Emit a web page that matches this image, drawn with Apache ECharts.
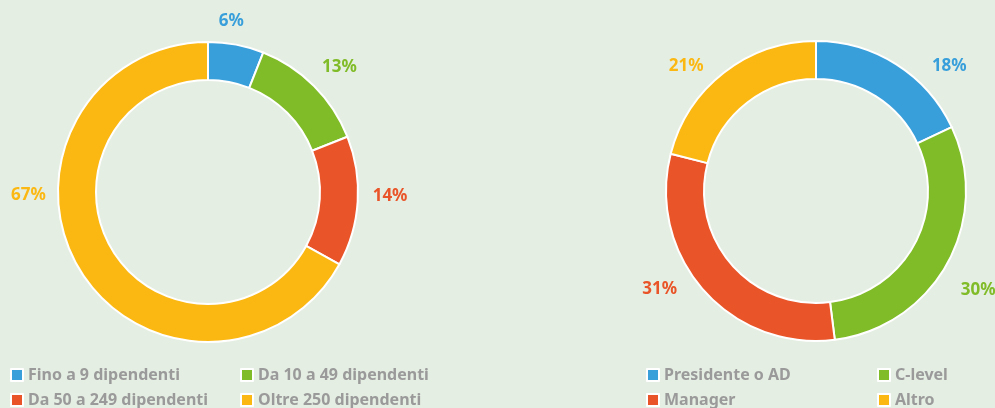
<!DOCTYPE html>
<html>
<head>
<meta charset="utf-8">
<script src="https://cdn.jsdelivr.net/npm/echarts@6/dist/echarts.min.js"></script>
<style>
  html, body { margin: 0; padding: 0; background: #e5eee2; }
  #chart { width: 995px; height: 408px; }
</style>
</head>
<body>
<div id="chart"></div>
<script>
// dimensione aziende
var sizeNames = ['Fino a 9 dipendenti', 'Da 10 a 49 dipendenti', 'Da 50 a 249 dipendenti', 'Oltre 250 dipendenti']
var sizeValues = [6, 13, 14, 67]
// ruolo
var roleNames = ['Presidente o AD', 'C-level', 'Manager', 'Altro']
var roleValues = [18, 30, 31, 21]

var colors = ['#389fdb', '#80bb28', '#e95428', '#fbb813']

// piccoli spostamenti delle etichette rispetto alla posizione 'outside'
var labelShift = [
  [[-25, -10], [-7, -9], [-4, -6], [-16, -80]],
  [[23, 14], [-4, 20], [-11, -10], [-7, 5]]
]

function toData(names, values) {
  return names.map(function (n, i) {
    return { name: n, value: values[i], itemStyle: { color: colors[i] }, label: { color: colors[i] } }
  })
}

var fontFam = '"Noto Sans", sans-serif'

function legendCol(left, items) {
  return {
    orient: 'vertical',
    left: left,
    top: 367,
    padding: 0,
    itemWidth: 12,
    itemHeight: 12,
    itemGap: 9,
    icon: 'rect',
    selectedMode: false,
    data: items,
    textStyle: { color: '#9a9a9a', fontSize: 16, fontWeight: 'bold', fontFamily: fontFam }
  }
}

function pieSeries(center, data) {
  return {
    type: 'pie',
    center: center,
    radius: [112, 150],
    startAngle: 90,
    clockwise: true,
    avoidLabelOverlap: false,
    data: data,
    itemStyle: { borderColor: '#fff', borderWidth: 2 },
    label: {
      show: true,
      position: 'outside',
      formatter: '{c}%',
      fontSize: 17,
      fontWeight: 'bold',
      fontFamily: fontFam
    },
    labelLine: { show: false, length: 14, length2: 0 },
    labelLayout: function (p) {
      var s = labelShift[p.seriesIndex][p.dataIndex]
      return { dx: s[0], dy: s[1] }
    },
    emphasis: { scale: false }
  }
}

var chart = echarts.init(document.getElementById('chart'))
chart.setOption({
  backgroundColor: '#e5eee2',
  animation: false,
  legend: [
    legendCol(10, [sizeNames[0], sizeNames[2]]),
    legendCol(240, [sizeNames[1], sizeNames[3]]),
    legendCol(646, [roleNames[0], roleNames[2]]),
    legendCol(877, [roleNames[1], roleNames[3]])
  ],
  series: [
    pieSeries([208, 192], toData(sizeNames, sizeValues)),
    pieSeries([816, 191], toData(roleNames, roleValues))
  ]
})
</script>
</body>
</html>
